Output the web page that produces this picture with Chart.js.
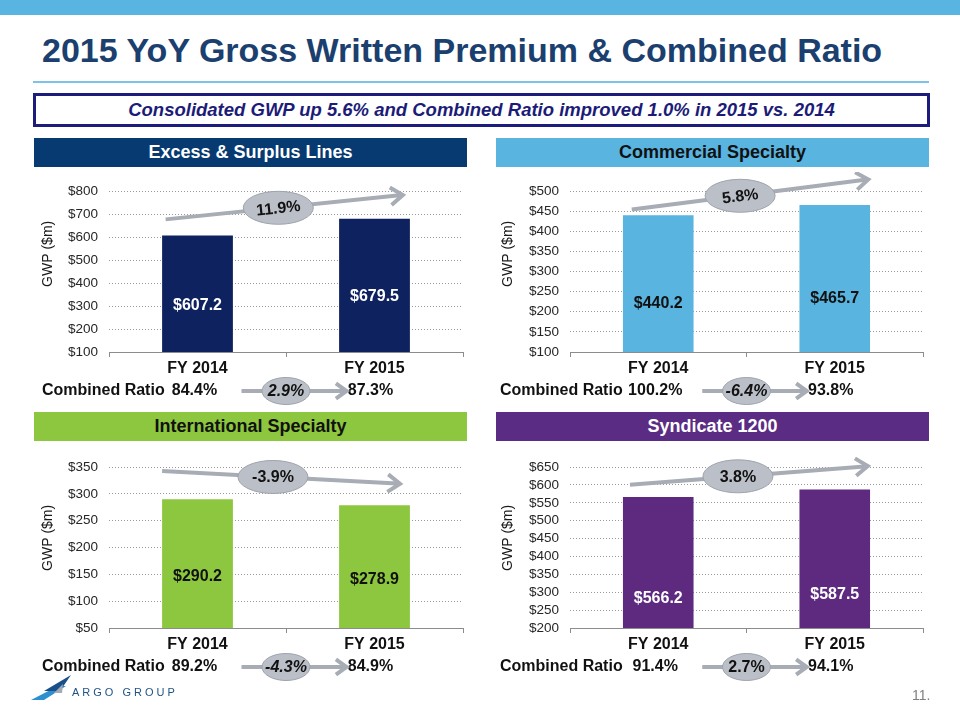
<!DOCTYPE html>
<html><head><meta charset="utf-8">
<script src="https://cdn.jsdelivr.net/npm/chart.js@4.4.1/dist/chart.umd.min.js"></script>
<style>
html,body{margin:0;padding:0;background:#fff}
body{width:960px;height:720px;position:relative;overflow:hidden;font-family:"Liberation Sans",Arial,Helvetica,sans-serif}
.abs{position:absolute}
#topbar{left:0;top:0;width:960px;height:15px;background:#5AB4E1}
#title{left:42px;top:33px;font-size:34px;line-height:34px;font-weight:bold;color:#1B3F6E;white-space:nowrap}
#rule{left:33px;top:81px;width:896px;height:2px;background:#7EC3E6}
#box{left:33px;top:93px;width:891px;height:28px;border:3px solid #1C1C7C;display:flex;align-items:center;justify-content:center}
#box span{font-size:18.5px;font-weight:bold;font-style:italic;color:#1C1C78;white-space:nowrap}
.hdr{height:29px;display:flex;align-items:center;justify-content:center;font-size:18px;font-weight:bold;white-space:nowrap}
canvas{position:absolute}
#logoText{left:72px;top:686px;font-size:11px;letter-spacing:3px;color:#1F5285;white-space:nowrap}
#page{left:912px;top:687px;font-size:14px;color:#7F7F7F}
</style></head>
<body>
<div id="topbar" class="abs"></div>
<div id="title" class="abs">2015 YoY Gross Written Premium &amp; Combined Ratio</div>
<div id="rule" class="abs"></div>
<div id="box" class="abs"><span>Consolidated GWP up 5.6% and Combined Ratio improved 1.0% in 2015 vs. 2014</span></div>

<div id="h0" class="abs hdr"></div>
<div id="h1" class="abs hdr"></div>
<div id="h2" class="abs hdr"></div>
<div id="h3" class="abs hdr"></div>

<canvas id="c0" width="433" height="238"></canvas>
<canvas id="c1" width="433" height="238"></canvas>
<canvas id="c2" width="433" height="238"></canvas>
<canvas id="c3" width="433" height="238"></canvas>

<svg class="abs" style="left:0;top:0" width="960" height="720" pointer-events="none">
  <polygon points="31,700 58,686 66,686 44,700" fill="#2E8FD0"/>
  <polygon points="44,691 71,675 60,691" fill="#1B4F8A"/>
  <polygon points="54,693 63,684 62,693" fill="#A3ABB4"/>
</svg>
<div id="logoText" class="abs">ARGO GROUP</div>
<div id="page" class="abs">11.</div>

<script>
// ---- data ----
const categories = ['FY 2014', 'FY 2015'];
const panelTitles = ['Excess & Surplus Lines', 'Commercial Specialty', 'International Specialty', 'Syndicate 1200'];
const gwpExcessSurplus = [607.2, 679.5];
const gwpCommercial = [440.2, 465.7];
const gwpInternational = [290.2, 278.9];
const gwpSyndicate = [566.2, 587.5];
const gwpGrowth = ['11.9%', '5.8%', '-3.9%', '3.8%'];
const crFY2014 = ['84.4%', '100.2%', '89.2%', '91.4%'];
const crFY2015 = ['87.3%', '93.8%', '84.9%', '94.1%'];
const crChange = ['2.9%', '-6.4%', '-4.3%', '2.7%'];
const axisMin = [100, 100, 50, 200];
const axisMax = [800, 500, 350, 650];
const axisStep = [100, 50, 50, 50];
const seriesList = [gwpExcessSurplus, gwpCommercial, gwpInternational, gwpSyndicate];

// ---- layout / styles ----
const FONT = '"Liberation Sans", Arial, Helvetica, sans-serif';
const panels = [
  {left:35,  top:172, yw:74, hdr:{left:34, top:138, w:433, bg:'#063A70', fg:'#FFFFFF'}, bar:'#0F2260', lbl:'#FFFFFF',
   from:[-0.18,677], to:[1.16,783], at:0.475, rot:true, italic:true, crLeft:7, titleFrac:0.39},
  {left:495, top:172, yw:75, hdr:{left:496, top:138, w:433, bg:'#5AB4E0', fg:'#111111'}, bar:'#5AB4E0', lbl:'#111111',
   from:[-0.15,454], to:[1.19,529], at:0.458, rot:true, italic:true, crLeft:5, titleFrac:0.39},
  {left:35,  top:448, yw:74, hdr:{left:34, top:412, w:433, bg:'#8DC63F', fg:'#111111'}, bar:'#8DC63F', lbl:'#111111',
   from:[-0.2,342.7], to:[1.144,318.9], at:0.466, rot:false, italic:true, crLeft:7, titleFrac:0.44},
  {left:495, top:448, yw:75, hdr:{left:496, top:412, w:433, bg:'#5B2C83', fg:'#FFFFFF'}, bar:'#5D2A7F', lbl:'#FFFFFF',
   from:[-0.16,600.6], to:[1.187,652.7], at:0.454, rot:false, italic:false, crLeft:5, titleFrac:0.44}
];

const ARROW = '#A7ACB5', BUBBLE = '#BBBFC7', BUBBLE_EDGE = '#9EA3AC';

function drawArrow(ctx, x1, y1, x2, y2, lw, head) {
  const a = Math.atan2(y2 - y1, x2 - x1);
  ctx.strokeStyle = ARROW; ctx.lineWidth = lw; ctx.lineCap = 'butt'; ctx.lineJoin = 'miter';
  ctx.beginPath(); ctx.moveTo(x1, y1); ctx.lineTo(x2 - Math.cos(a) * lw * 0.8, y2 - Math.sin(a) * lw * 0.8); ctx.stroke();
  ctx.beginPath();
  ctx.moveTo(x2 - head * Math.cos(a - 0.62), y2 - head * Math.sin(a - 0.62));
  ctx.lineTo(x2, y2);
  ctx.lineTo(x2 - head * Math.cos(a + 0.62), y2 - head * Math.sin(a + 0.62));
  ctx.stroke();
}
function drawBubble(ctx, cx, cy, rx, ry, text, font, angle) {
  ctx.save();
  ctx.beginPath(); ctx.ellipse(cx, cy, rx, ry, 0, 0, Math.PI * 2);
  ctx.fillStyle = BUBBLE; ctx.fill(); ctx.lineWidth = 1; ctx.strokeStyle = BUBBLE_EDGE; ctx.stroke();
  ctx.translate(cx, cy); ctx.rotate(angle);
  ctx.fillStyle = '#111111'; ctx.font = font; ctx.textAlign = 'center'; ctx.textBaseline = 'middle';
  ctx.fillText(text, 0, 1);
  ctx.restore();
}

const decoPlugin = {
  id: 'deco',
  afterDraw(chart, args, opts) {
    const p = panels[opts.idx], i = opts.idx;
    const ctx = chart.ctx, xs = chart.scales.x, ys = chart.scales.y, ca = chart.chartArea;
    ctx.save();
    // bar value labels
    const meta = chart.getDatasetMeta(0);
    ctx.font = 'bold 16px ' + FONT; ctx.fillStyle = p.lbl; ctx.textAlign = 'center'; ctx.textBaseline = 'middle';
    meta.data.forEach((bar, k) => {
      const v = chart.data.datasets[0].data[k];
      ctx.fillText('$' + v.toFixed(1), bar.x, (bar.y + bar.base) / 2);
    });
    // y axis title
    ctx.save();
    ctx.translate(ys.left + 13, ca.top + ca.height * p.titleFrac); ctx.rotate(-Math.PI / 2);
    ctx.font = '14px ' + FONT; ctx.fillStyle = '#1A1A1A'; ctx.fillText('GWP ($m)', 0, 0);
    ctx.restore();
    // growth arrow
    const x1 = xs.getPixelForValue(p.from[0]), y1 = ys.getPixelForValue(p.from[1]);
    const x2 = xs.getPixelForValue(p.to[0]), y2 = ys.getPixelForValue(p.to[1]);
    drawArrow(ctx, x1, y1, x2, y2, 4, 15);
    const bx = x1 + (x2 - x1) * p.at, by = y1 + (y2 - y1) * p.at;
    drawBubble(ctx, bx, by, 35, 16.5, gwpGrowth[i], 'bold 16px ' + FONT, p.rot ? Math.atan2(y2 - y1, x2 - x1) : 0);
    // combined ratio row
    const ry = ca.bottom + 39;
    const c0 = xs.getPixelForValue(0), c1 = xs.getPixelForValue(1);
    ctx.font = 'bold 16px ' + FONT; ctx.fillStyle = '#111111'; ctx.textBaseline = 'middle';
    ctx.textAlign = 'left'; ctx.fillText('Combined Ratio', xs.left - p.yw + p.crLeft, ry);
    ctx.textAlign = 'center';
    ctx.fillText(crFY2014[i], c0 - 3, ry);
    ctx.fillText(crFY2015[i], c1 - 4, ry);
    drawArrow(ctx, c0 + 44, ry, c1 - 28, ry, 4, 13);
    drawBubble(ctx, (c0 + c1) / 2, ry, 24, 13.5, crChange[i], (p.italic ? 'italic ' : '') + 'bold 16px ' + FONT, 0);
    ctx.restore();
  }
};

Chart.defaults.font.family = FONT;

panels.forEach((p, i) => {
  const h = document.getElementById('h' + i);
  h.textContent = panelTitles[i];
  Object.assign(h.style, {left: p.hdr.left + 'px', top: p.hdr.top + 'px', width: p.hdr.w + 'px', background: p.hdr.bg, color: p.hdr.fg});
  const cv = document.getElementById('c' + i);
  cv.style.left = p.left + 'px'; cv.style.top = p.top + 'px';
  new Chart(cv, {
    type: 'bar',
    data: {labels: categories, datasets: [{data: seriesList[i], backgroundColor: p.bar, borderWidth: 0,
      barPercentage: 0.4, categoryPercentage: 1.0}]},
    plugins: [decoPlugin],
    options: {
      responsive: false, animation: false, devicePixelRatio: 1,
      layout: {padding: {top: i < 2 ? 15 : 16, right: 5, bottom: 33, left: 0}},
      plugins: {legend: {display: false}, tooltip: {enabled: false}, deco: {idx: i}},
      scales: {
        x: {
          offset: true,
          grid: {display: true, drawOnChartArea: false, drawTicks: true, tickLength: 5, color: '#8C8C8C', offset: true},
          border: {display: true, color: '#8C8C8C', width: 1},
          ticks: {color: '#111111', font: {size: 16, weight: 'bold'}, padding: 2},
          afterFit(s) { s.height = 25; }
        },
        y: {
          min: axisMin[i], max: axisMax[i],
          grid: {display: true, drawTicks: false, color: '#9A9A9A', lineWidth: 1},
          border: {display: false, dash: [1, 2]},
          ticks: {stepSize: axisStep[i], autoSkip: false, maxTicksLimit: 20, color: '#262626', font: {size: 13.5}, padding: 11,
            callback: v => '$' + v},
          afterFit(s) { s.width = p.yw; }
        }
      }
    }
  });
});
</script>
</body></html>
